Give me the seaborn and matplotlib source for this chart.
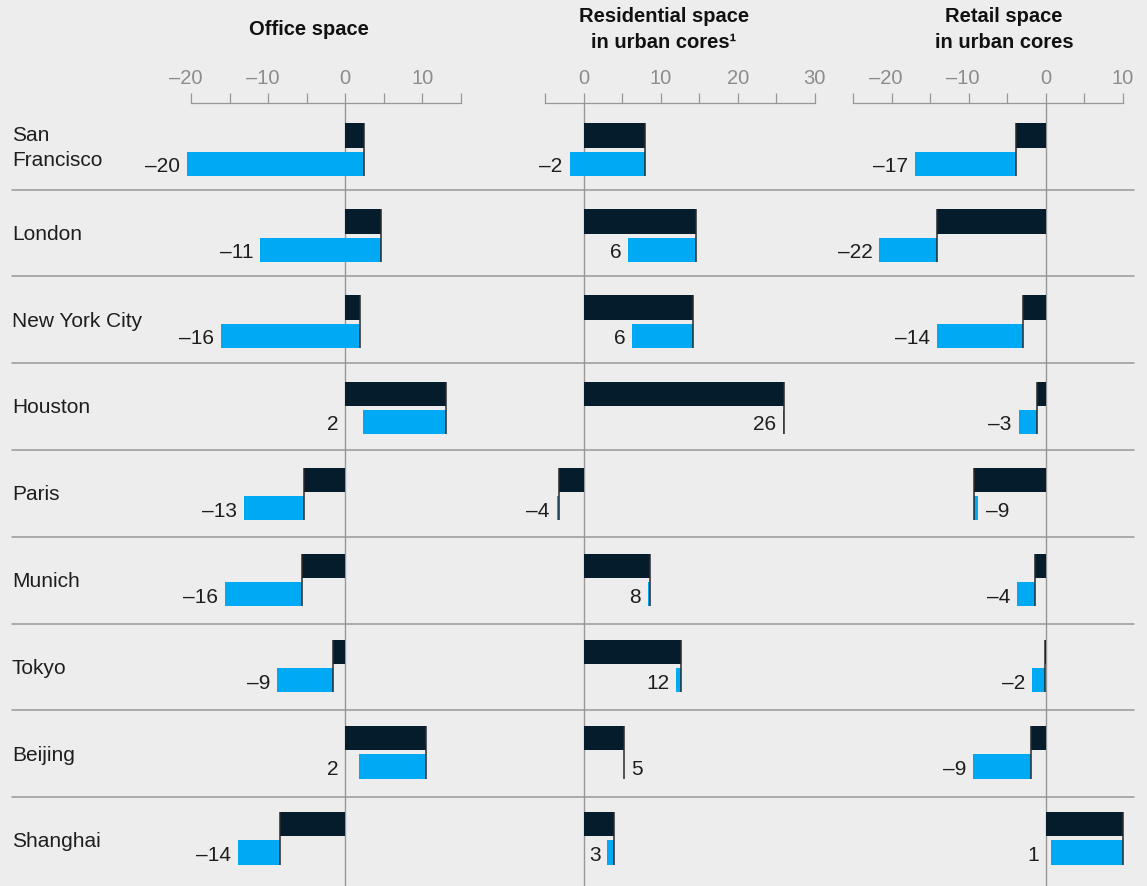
import matplotlib
matplotlib.use("Agg")
import matplotlib.pyplot as plt
from matplotlib.transforms import blended_transform_factory
from matplotlib.lines import Line2D
import seaborn as sns
import numpy as np

# ---------------- data ----------------
cities = ["San\nFrancisco", "London", "New York City", "Houston", "Paris",
          "Munich", "Tokyo", "Beijing", "Shanghai"]

office_prev = [2.5, 4.6, 1.9, 13.1, -5.3, -5.6, -1.6, 10.5, -8.5]
office_new = [-20.5, -11.0, -16.1, 2.3, -13.1, -15.6, -8.8, 1.8, -13.9]
office_labels = [-20, -11, -16, 2, -13, -16, -9, 2, -14]

res_prev = [8.0, 14.6, 14.2, 26.05, -3.2, 8.65, 12.6, 5.2, 4.0]
res_new = [-1.8, 5.8, 6.3, 25.9, -3.5, 8.3, 12.0, 5.2, 3.1]
res_labels = [-2, 6, 6, 26, -4, 8, 12, 5, 3]

retail_prev = [-3.9, -14.1, -3.0, -1.1, -9.3, -1.4, -0.15, -1.9, 10.0]
retail_new = [-17.0, -21.6, -14.1, -3.5, -8.75, -3.7, -1.8, -9.4, 0.74]
retail_labels = [-17, -22, -14, -3, -9, -4, -2, -9, 1]

titles = ["Office space", "Residential space\nin urban cores\u00b9",
          "Retail space\nin urban cores"]
tick_ranges = [(-20, 15), (-5, 30), (-25, 10)]

# ---------------- style ----------------
W, H, DPI = 1147, 886, 100
BG = "#EDEDED"
DARK = "#051C2C"
BLUE = "#00A9F4"
GRID = "#979797"
TICK_TXT = "#8C8C8C"
TXT = "#1E1E1E"
FONT = "Liberation Sans"

sns.set_theme(style="white")
plt.rcParams["font.family"] = [FONT, "DejaVu Sans"]

fig = plt.figure(figsize=(W / DPI, H / DPI), dpi=DPI, facecolor=BG)

SCALE = 7.71          # px per unit
AX_TOP = 102.7        # px
AX_BOT = 886.0
ROW_PX = 86.8
MARGIN = 1.5
panel_lo_px = [191, 545, 853]
title_x_px = [309, 664, 1004]
label_at_zero = [True, False, True]

BAR_PITCH = 0.9918
BAR_H = 0.281
DARK_C = -0.122
BLUE_C = DARK_C + BAR_H + 0.044
TICK_FS = 14.5

def en(v):
    return str(v).replace("-", "\u2013")

prevs = [office_prev, res_prev, retail_prev]
news = [office_new, res_new, retail_new]
labs = [office_labels, res_labels, retail_labels]

n = len(cities)
pos = np.arange(n)
bpos = pos * BAR_PITCH
dash_half_pt = 0.556 * TICK_FS / 2

axes = []
for k in range(3):
    lo, hi = tick_ranges[k]
    left_px = panel_lo_px[k] - MARGIN * SCALE
    width_px = (hi - lo + 2 * MARGIN) * SCALE
    ax = fig.add_axes([left_px / W, 1 - AX_BOT / H, width_px / W, (AX_BOT - AX_TOP) / H])
    ax.set_facecolor("none")
    axes.append(ax)

    prev = np.array(prevs[k])
    new = np.array(news[k])

    # zero line
    ax.axvline(0, color=GRID, lw=1.0, zorder=0)

    # dark bars (previous forecast) via seaborn
    sns.barplot(x=prev, y=bpos + DARK_C, orient="y", native_scale=True,
                width=BAR_H / BAR_PITCH, color=DARK, saturation=1, linewidth=0,
                errorbar=None, ax=ax, zorder=2)
    # blue floating bars (change to new forecast)
    ax.barh(bpos + BLUE_C, new - prev, left=prev, height=BAR_H, color=BLUE,
            linewidth=0, zorder=2)
    # marker line at previous value
    ax.vlines(prev, bpos + DARK_C - BAR_H / 2, bpos + BLUE_C + BAR_H / 2,
              color="#2A2A2A", lw=1.1, zorder=3)

    # value labels
    for i in range(n):
        if new[i] < prev[i]:
            anchor = min(new[i], 0) if label_at_zero[k] else new[i]
            ax.annotate(en(labs[k][i]), (anchor, bpos[i] + BLUE_C),
                        xytext=(-5.0, -6.1), textcoords="offset points",
                        ha="right", va="baseline", fontsize=15, color=TXT,
                        annotation_clip=False)
        else:
            ax.annotate(en(labs[k][i]), (new[i], bpos[i] + BLUE_C),
                        xytext=(5.3, -6.1), textcoords="offset points",
                        ha="left", va="baseline", fontsize=15, color=TXT,
                        annotation_clip=False)

    ax.set_xlim(lo - MARGIN, hi + MARGIN)
    ax.set_ylim(n - 0.5 + (AX_BOT - AX_TOP - n * ROW_PX) / ROW_PX, -0.5)
    ax.set_xlabel("")
    ax.set_ylabel("")
    ax.set_yticks([])

    ticks = list(range(lo, hi + 1, 5))
    ax.xaxis.tick_top()
    ax.set_xticks(ticks)
    ax.set_xticklabels([])
    ax.tick_params(axis="x", direction="out", length=7.2, width=0.9,
                   color=GRID, top=True, bottom=False)
    # tick labels: digits centred on the tick, dash hanging to the left
    for t in ticks:
        if t % 10 == 0:
            dx = -dash_half_pt if t < 0 else 0
            ax.annotate(en(t), (t, 1), xycoords=("data", "axes fraction"),
                        xytext=(dx, 13.8), textcoords="offset points",
                        ha="center", va="baseline", fontsize=TICK_FS,
                        color=TICK_TXT, annotation_clip=False)
    for s in ["left", "right", "bottom"]:
        ax.spines[s].set_visible(False)
    ax.spines["top"].set_visible(True)
    ax.spines["top"].set_color(GRID)
    ax.spines["top"].set_linewidth(0.9)
    ax.spines["top"].set_bounds(lo, hi)

    # panel titles
    lines = titles[k].split("\n")
    base = 35.0 - (len(lines) - 1) * 25.5 / 2
    for j, line in enumerate(lines):
        fig.text(title_x_px[k] / W, 1 - (base + j * 25.5) / H, line,
                 ha="center", va="baseline", fontsize=14.5, fontweight="bold",
                 color="#111111")

# row separators across the full width
ax0 = axes[0]
tr = blended_transform_factory(fig.transFigure, ax0.transData)
for i in range(n - 1):
    fig.add_artist(Line2D([12 / W, 1134 / W], [i + 0.5, i + 0.5], transform=tr,
                          color=GRID, lw=1.1, zorder=1))

# city labels
px2row = 1.0 / ROW_PX
for i, c in enumerate(cities):
    lines = c.split("\n")
    last_base = i + (7.0 + (len(lines) - 1) * 25.0 / 2) * px2row
    for j, line in enumerate(lines):
        y = last_base - (len(lines) - 1 - j) * 25.0 * px2row
        ax0.text(12 / W, y, line, transform=tr, ha="left", va="baseline",
                 fontsize=15, color=TXT)

fig.savefig("out.png", dpi=DPI, facecolor=BG)
